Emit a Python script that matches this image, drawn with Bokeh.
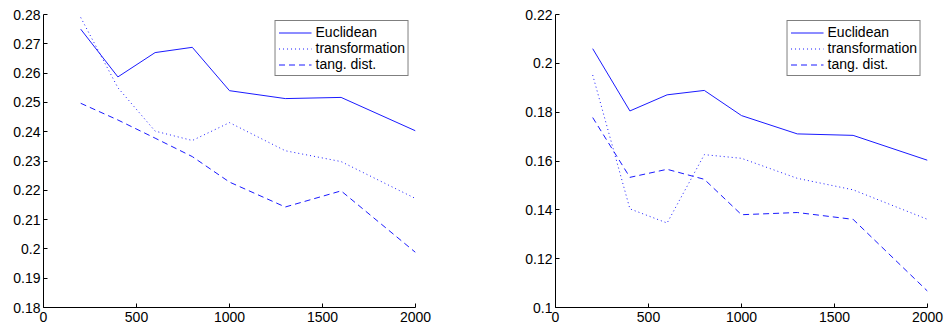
from bokeh.plotting import figure
from bokeh.layouts import row
from bokeh.models import Range1d, FixedTicker, Legend, LegendItem
from bokeh.embed import file_html
from bokeh.resources import INLINE

# ---- data ----
x_vals = [200, 400, 600, 800, 1000, 1300, 1600, 2000]

left_euclid = [0.2750, 0.2587, 0.2670, 0.2688, 0.2540, 0.2513, 0.2517, 0.2403]
left_transf = [0.2790, 0.2550, 0.2402, 0.2370, 0.2431, 0.2335, 0.2298, 0.2172]
left_tang   = [0.2497, 0.2440, 0.2378, 0.2315, 0.2228, 0.2143, 0.2198, 0.1988]

right_euclid = [0.2060, 0.1805, 0.1871, 0.1889, 0.1786, 0.1711, 0.1705, 0.1603]
right_transf = [0.1952, 0.1404, 0.1346, 0.1626, 0.1611, 0.1529, 0.1482, 0.1361]
right_tang   = [0.1778, 0.1533, 0.1566, 0.1525, 0.1380, 0.1389, 0.1361, 0.1067]

series_names = ["Euclidean", "transformation", "tang. dist."]

x_ticks = [0, 500, 1000, 1500, 2000]
left_yticks = [0.18, 0.19, 0.2, 0.21, 0.22, 0.23, 0.24, 0.25, 0.26, 0.27, 0.28]
left_ylabels = ["0.18", "0.19", "0.2", "0.21", "0.22", "0.23", "0.24", "0.25", "0.26", "0.27", "0.28"]
right_yticks = [0.1, 0.12, 0.14, 0.16, 0.18, 0.2, 0.22]
right_ylabels = ["0.1", "0.12", "0.14", "0.16", "0.18", "0.2", "0.22"]

FONT = "Liberation Sans"
BLUE = "#1a1aff"


def make_plot(width, border_left, border_right, border_top, yr, yticks, ylabels, ys, lmargin):
    p = figure(width=width, height=331, output_backend="svg", toolbar_location=None,
               x_range=Range1d(0, 2000), y_range=Range1d(*yr),
               min_border_left=border_left, min_border_right=border_right,
               min_border_top=border_top, min_border_bottom=24)
    p.outline_line_color = None
    p.xgrid.visible = False
    p.ygrid.visible = False
    p.background_fill_color = "white"

    for ax in (p.xaxis[0], p.yaxis[0]):
        ax.axis_line_color = "black"
        ax.major_tick_line_color = "black"
        ax.major_tick_in = 4
        ax.major_tick_out = 0
        ax.minor_tick_line_color = None
        ax.major_label_text_font = FONT
        ax.major_label_text_font_size = "14px"
        ax.major_label_text_color = "black"
    p.xaxis[0].ticker = FixedTicker(ticks=x_ticks)
    p.xaxis[0].major_label_standoff = 4
    p.yaxis[0].ticker = FixedTicker(ticks=yticks)
    p.yaxis[0].major_label_overrides = {t: l for t, l in zip(yticks, ylabels)}
    p.yaxis[0].major_label_standoff = 3

    dashes = ["solid", "1 3", "6 4"]
    items = []
    for name, y, dash in zip(series_names, ys, dashes):
        r = p.line(x_vals, y, line_color=BLUE, line_width=1, line_dash=dash)
        items.append(LegendItem(label=name, renderers=[r]))

    legend = Legend(items=items, location="top_right")
    legend.margin = lmargin
    legend.padding = 3
    legend.spacing = 0
    legend.label_height = 15
    legend.glyph_height = 15
    legend.glyph_width = 33
    legend.label_standoff = 4
    legend.label_text_font = FONT
    legend.label_text_font_size = "14px"
    legend.label_text_color = "black"
    legend.border_line_color = "black"
    legend.border_line_width = 1.5
    legend.background_fill_color = "white"
    legend.background_fill_alpha = 1
    p.add_layout(legend, "center")
    return p


p1 = make_plot(470, 43, 55, 14, (0.18, 0.28), left_yticks, left_ylabels,
               [left_euclid, left_transf, left_tang], 6)
p2 = make_plot(474, 85, 17, 13, (0.1, 0.22), right_yticks, right_ylabels,
               [right_euclid, right_transf, right_tang], 6)

layout = row(p1, p2)
open("out.html", "w").write(file_html(layout, INLINE))
